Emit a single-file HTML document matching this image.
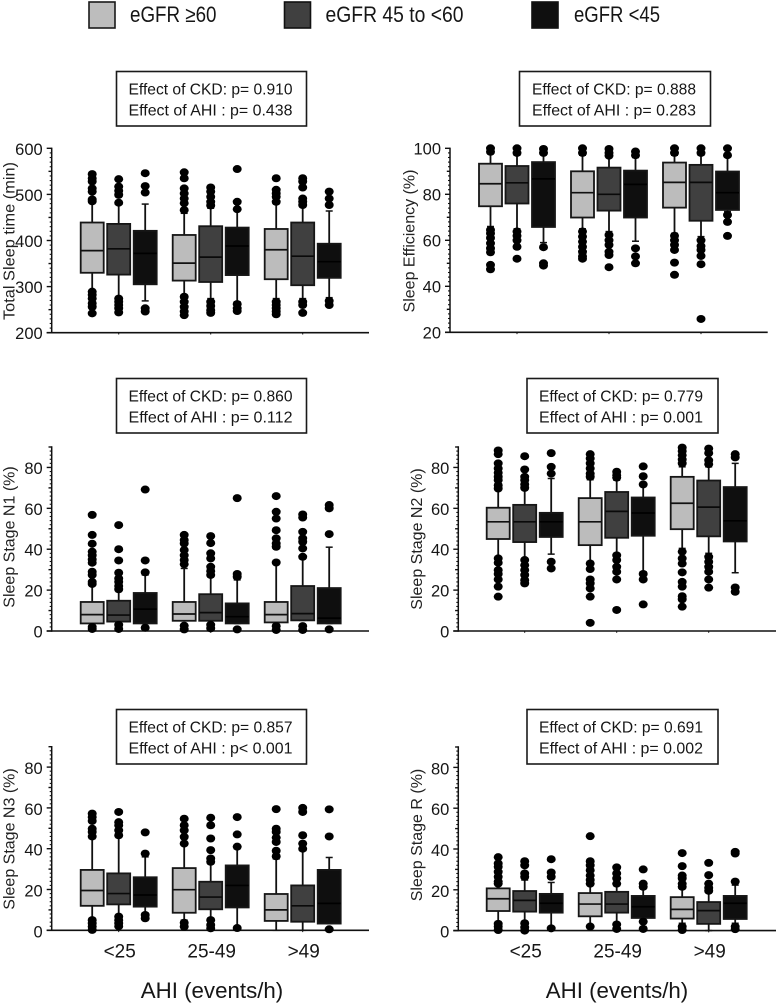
<!DOCTYPE html>
<html lang="en">
<head>
<meta charset="utf-8">
<title>Sleep parameters by AHI and eGFR</title>
<style>
html,body{margin:0;padding:0;background:#fff;}
svg{display:block;}
text{font-family:"Liberation Sans",sans-serif;fill:#161616;}
.legend-text{font-size:22px;}
.note{font-size:16px;}
.ytitle{font-size:16px;text-anchor:middle;fill:#222;}
.xtitle{font-size:22.3px;text-anchor:middle;}
.cat{font-size:19px;text-anchor:middle;}
.tick{font-size:16.5px;text-anchor:end;}
</style>
</head>
<body>
<svg id="figure" xmlns="http://www.w3.org/2000/svg" width="777" height="1005" viewBox="0 0 777 1005">
  <g>
    <g>
      <rect x="89" y="2" width="26" height="26" fill="#bdbdbd" stroke="#1a1a1a" stroke-width="1.6"/>
      <text class="legend-text" x="130" y="22" textLength="86.5" lengthAdjust="spacingAndGlyphs">eGFR ≥60</text>
    </g>
    <g>
      <rect x="284.5" y="2" width="26" height="26" fill="#404040" stroke="#111" stroke-width="1.6"/>
      <text class="legend-text" x="325.5" y="22" textLength="138" lengthAdjust="spacingAndGlyphs">eGFR 45 to &lt;60</text>
    </g>
    <g>
      <rect x="532" y="2" width="26" height="26" fill="#0f0f0f" stroke="#111" stroke-width="1.6"/>
      <text class="legend-text" x="574" y="22" textLength="86" lengthAdjust="spacingAndGlyphs">eGFR &lt;45</text>
    </g>
  </g>

  <g>
    <rect x="116.5" y="71.5" width="190" height="54.5" fill="#fff" stroke="#1a1a1a" stroke-width="1.6"/>
    <text class="note" x="128.5" y="94.5" textLength="164" lengthAdjust="spacingAndGlyphs">Effect of CKD: p= 0.910</text>
    <text class="note" x="128.5" y="115.5" textLength="164" lengthAdjust="spacingAndGlyphs">Effect of AHI : p= 0.438</text>
  </g>
  <g>
    <rect x="519.5" y="71.5" width="191" height="54.5" fill="#fff" stroke="#1a1a1a" stroke-width="1.6"/>
    <text class="note" x="532" y="94.5" textLength="164" lengthAdjust="spacingAndGlyphs">Effect of CKD: p= 0.888</text>
    <text class="note" x="532" y="115.5" textLength="164" lengthAdjust="spacingAndGlyphs">Effect of AHI : p= 0.283</text>
  </g>
  <g>
    <rect x="116.5" y="378.5" width="190" height="54.5" fill="#fff" stroke="#1a1a1a" stroke-width="1.6"/>
    <text class="note" x="128.5" y="401.5" textLength="164" lengthAdjust="spacingAndGlyphs">Effect of CKD: p= 0.860</text>
    <text class="note" x="128.5" y="422.5" textLength="164" lengthAdjust="spacingAndGlyphs">Effect of AHI : p= 0.112</text>
  </g>
  <g>
    <rect x="527" y="378.5" width="191" height="54.5" fill="#fff" stroke="#1a1a1a" stroke-width="1.6"/>
    <text class="note" x="539" y="401.5" textLength="164" lengthAdjust="spacingAndGlyphs">Effect of CKD: p= 0.779</text>
    <text class="note" x="539" y="422.5" textLength="164" lengthAdjust="spacingAndGlyphs">Effect of AHI : p= 0.001</text>
  </g>
  <g>
    <rect x="116.5" y="709.5" width="190" height="54.5" fill="#fff" stroke="#1a1a1a" stroke-width="1.6"/>
    <text class="note" x="128.5" y="732.5" textLength="164" lengthAdjust="spacingAndGlyphs">Effect of CKD: p= 0.857</text>
    <text class="note" x="128.5" y="753.5" textLength="164" lengthAdjust="spacingAndGlyphs">Effect of AHI : p&lt; 0.001</text>
  </g>
  <g>
    <rect x="527" y="709.5" width="191" height="54.5" fill="#fff" stroke="#1a1a1a" stroke-width="1.6"/>
    <text class="note" x="539" y="732.5" textLength="164" lengthAdjust="spacingAndGlyphs">Effect of CKD: p= 0.691</text>
    <text class="note" x="539" y="753.5" textLength="164" lengthAdjust="spacingAndGlyphs">Effect of AHI : p= 0.002</text>
  </g>

  <text class="ytitle" transform="translate(14.5,241) rotate(-90)" textLength="158" lengthAdjust="spacingAndGlyphs">Total Sleep time (min)</text>
  <text class="ytitle" transform="translate(414.5,241) rotate(-90)">Sleep Efficiency (%)</text>
  <text class="ytitle" transform="translate(14.5,537) rotate(-90)">Sleep Stage N1 (%)</text>
  <text class="ytitle" transform="translate(422,539) rotate(-90)">Sleep Stage N2 (%)</text>
  <text class="ytitle" transform="translate(14.5,839) rotate(-90)">Sleep Stage N3 (%)</text>
  <text class="ytitle" transform="translate(422,835) rotate(-90)">Sleep Stage R (%)</text>

  <text class="xtitle" x="212" y="998">AHI (events/h)</text>
  <text class="xtitle" x="617" y="998">AHI (events/h)</text>

  <g id="plots"></g>
</svg>

<script>
// Categories and series
const ahiCategories = ['<25', '25-49', '>49'];
const egfrGroups = ['eGFR ≥60', 'eGFR 45 to <60', 'eGFR <45'];

// Tick labels
const sleepTimeTicks = [200, 300, 400, 500, 600];
const efficiencyTicks = [20, 40, 60, 80, 100];
const stageTicks = [0, 20, 40, 60, 80];

// Total sleep time (min): nine boxes, three per AHI category
const tstQ1 = [330, 326, 305, 313, 310, 325, 316, 303, 319];
const tstMedian = [378, 382, 372, 351, 364, 388, 380, 366, 354];
const tstQ3 = [439, 436, 421, 412, 431, 428, 425, 439, 393];
const tstLow = [285, 276, 269, 282, 274, 267, 274, 274, 276];
const tstHigh = [488, 480, 479, 459, 470, 470, 480, 473, 464];
const tstOutliers = [
  [544,535,528,513,506,489,485,289,282,274,264,256,242],
  [533,517,508,499,482,274,267,260,253,244],
  [546,518,504,253,246],
  [548,535,513,502,491,481,466,278,267,256,246,238],
  [515,506,495,484,476,267,258,249,243],
  [555,484,468,262,253,247],
  [535,510,502,495,484,267,260,253,246,240],
  [535,528,515,491,484,477,267,260,243],
  [506,491,477,269,260]
];

// Sleep efficiency (%)
const effQ1 = [74.8, 76, 65.8, 69.9, 72.9, 69.9, 74.2, 68.5, 73.2];
const effMedian = [84.6, 85, 86.7, 80.7, 80, 84.3, 85.2, 85.2, 80.7];
const effQ3 = [93.3, 92.3, 94, 90, 91.6, 90.3, 93.8, 92.8, 89.9];
const effLow = [66, 65, 59, 65, 63.8, 59.6, 63, 61.6, 72.5];
const effHigh = [97.8, 97, 97.8, 97, 96.4, 96, 97, 97, 96.4];
const effOutliers = [
  [100,98.5,64.5,63,61,58.7,56.5,54.8,49.3,47.4],
  [100,98,63.8,62,60,57.2,52],
  [99.7,98,57,50,49],
  [100,98,63.8,61.6,59.4,57.2,55,53,52],
  [99.7,98,96.8,62.3,60,58,55,53.6,48.3],
  [98.6,97,56.5,53,50],
  [100,98,62,60,58,55.8,50.3,45],
  [100,98,60,57.5,55.8,53.2,49.6,25.8],
  [100,97,71,68,61.9]
];

// Sleep stage N1 (%)
const n1Q1 = [3.7, 4.6, 3.7, 5, 5, 3.7, 4.2, 5.2, 3.7];
const n1Median = [8, 7.8, 10.7, 8.3, 9, 7, 8, 8.5, 6.3];
const n1Q3 = [14.2, 14.8, 18.6, 14.2, 18, 13.5, 14.2, 22, 21];
const n1Low = [3.7, 4.6, 3.7, 5, 5, 3.7, 4.2, 5.2, 3.7];
const n1High = [24, 21, 27.4, 30.6, 26.5, 25, 33, 35.5, 41];
const n1Outliers = [
  [56.8,47,42.7,38.8,37,35,33.4,29,27.4,24,23,2,1],
  [51.8,40,34.5,28.5,25.7,24,22,20.4,3,1],
  [69.2,34.5,28.7,1.6],
  [47,44.5,42.8,39.6,37,34.7,32.7,2.6,0.8],
  [46.4,43,38,35.5,31.4,29.3,27.4,3,1.3],
  [65,27.9,26.5,0.8],
  [66,58.3,55,49.3,45.3,42.8,41.2,33.5,2.4,0.5],
  [57,55.5,48.5,45.3,43.6,40.4,36.3,2.4,0.5],
  [61.6,60,47.4,0.8]
];

// Sleep stage N2 (%)
const n2Q1 = [45, 43.5, 46, 42, 45.6, 46.6, 49.8, 46.3, 43.8];
const n2Median = [53.4, 53.4, 53.4, 53.4, 58.5, 57.7, 62.5, 60.6, 53.9];
const n2Q3 = [60.3, 61.7, 57.8, 65, 68, 65.3, 75.4, 73.6, 70.4];
const n2Low = [36.3, 35.5, 37.6, 34, 38, 29, 40.4, 38, 28.5];
const n2High = [71.3, 69.7, 74.6, 74, 73.8, 71.3, 80.3, 80.3, 82];
const n2Outliers = [
  [88.3,86.5,82,79.5,77.4,75.4,73.8,71.3,69.7,35.5,33.4,29.8,27.9,25.2,21.7,16.8],
  [85.5,79,75.4,73.8,71.8,70,34.7,32.2,29.8,27.4,24.9,23.3],
  [87,80.3,77,33.9,30.6],
  [86.5,84.4,82,79.5,77,75.4,33,30.3,25.2,23.3,20.8,16.8,4],
  [77.9,76.2,75,37,34.7,31.4,29,25.2,10.3],
  [80.5,75.7,71.7,27.9,25.2,13],
  [89.7,88,86,83.9,82,38.8,35.5,33,28.7,24,21.7,17,15.5,11.9],
  [89.2,87,83.5,81.6,36.3,33.9,31.4,29,25.2,21.2],
  [86.5,84.9,21.3,19.2]
];

// Sleep stage N3 (%)
const n3Q1 = [12, 12.7, 11.6, 8.6, 10.3, 11.2, 4.6, 4.2, 3.3];
const n3Median = [19.5, 18, 17.3, 19.9, 16.3, 22, 10, 12, 13.2];
const n3Q3 = [29.6, 27.9, 26, 30.5, 23.8, 31.8, 17.8, 22, 29.6];
const n3Low = [5.9, 6.7, 8.3, 5, 5.9, 2, 0, 0, 3.3];
const n3High = [45, 45.8, 36, 41.7, 32.7, 40, 35, 39, 35.7];
const n3Outliers = [
  [57.2,55.5,53.6,49.8,48.2,46,5,3.4,1.8,0.2],
  [58,53,51.5,49,46.6,6.7,5,3.4,2],
  [48,37.6,7.5,5.9],
  [54.7,51.5,49,45.8,42.5,3.7,1.8],
  [55.2,51.5,45,39.3,35.2,33.6,5,2.6,1],
  [55.5,47,41,1.1],
  [59.4,49.8,48.2,45.4,43.3,39,36.3],
  [60,58,46.6,42.5,40],
  [59.3,46,0.5]
];

// Sleep stage R (%)
const rQ1 = [9.6, 9.3, 8.8, 7, 8.8, 6.2, 5.9, 3.3, 5.7];
const rMedian = [15.6, 14.8, 13.4, 13, 13, 11.7, 10.4, 9.8, 13.4];
const rQ3 = [20.7, 19.4, 18, 18.4, 19, 17, 16.4, 14, 17];
const rLow = [4.4, 4.4, 2, 2.8, 3.6, 2, 3.6, 0, 3.6];
const rHigh = [22.3, 24.8, 23.6, 22.3, 22, 21.5, 21.5, 19, 22.3];
const rOutliers = [
  [36,32.9,31.3,28.8,26.4,24,23,3.3,2,0.3],
  [34,32,28,26.4,3.6,1.6,0],
  [35,28.5,26.4,1.1],
  [46.3,34,32,29.6,27,24.8,23,2],
  [31,28,25.6,23,3,0.8],
  [30,23,21.5,4.4,0.8],
  [38,31.6,27,25.6,23,21.5,2,0.3],
  [33.2,27.2,23,21,19.5],
  [38.6,37.8,24,2,0.7]
];

// Layout (pixels) lives with the panels, never in the data arrays above
const SVG_NS = 'http://www.w3.org/2000/svg';
const plotsLayer = document.getElementById('plots');
const seriesFill = ['#bcbcbc', '#404040', '#0f0f0f'];
const seriesMedian = ['#111', '#0a0a0a', '#000'];
const GROUP_STEP = 92;
const SERIES_STEP = 26.5;
const BOX_W = 23;

const panels = [
  {key:'total-sleep', axisX:51.7, axisEnd:369, x0:118.7, yBase:332.7, yTop:148.3, vMin:200, vMax:600, ticks:sleepTimeTicks, major:100, mid:50, minor:10, labelDy:6.5, q1:tstQ1, med:tstMedian, q3:tstQ3, lo:tstLow, hi:tstHigh, out:tstOutliers, cats:false},
  {key:'sleep-efficiency', axisX:450, axisEnd:767.7, x0:517, yBase:332.3, yTop:148.3, vMin:20, vMax:100, ticks:efficiencyTicks, major:20, mid:10, minor:2, labelDy:6, q1:effQ1, med:effMedian, q3:effQ3, lo:effLow, hi:effHigh, out:effOutliers, cats:false},
  {key:'stage-n1', axisX:51.7, axisEnd:369, x0:118.7, yBase:631, yTop:447, vMin:0, vMax:90, ticks:stageTicks, major:20, mid:10, minor:2, labelDy:6.5, q1:n1Q1, med:n1Median, q3:n1Q3, lo:n1Low, hi:n1High, out:n1Outliers, cats:false},
  {key:'stage-n2', axisX:458.3, axisEnd:776, x0:524.7, yBase:631, yTop:447, vMin:0, vMax:90, ticks:stageTicks, major:20, mid:10, minor:2, labelDy:6.5, q1:n2Q1, med:n2Median, q3:n2Q3, lo:n2Low, hi:n2High, out:n2Outliers, cats:false},
  {key:'stage-n3', axisX:51.7, axisEnd:369, x0:118.7, yBase:930.3, yTop:746.7, vMin:0, vMax:90, ticks:stageTicks, major:20, mid:10, minor:2, labelDy:7, q1:n3Q1, med:n3Median, q3:n3Q3, lo:n3Low, hi:n3High, out:n3Outliers, cats:true},
  {key:'stage-r', axisX:458.3, axisEnd:776, x0:524.7, yBase:930.6, yTop:747, vMin:0, vMax:90, ticks:stageTicks, major:20, mid:10, minor:2, labelDy:7, q1:rQ1, med:rMedian, q3:rQ3, lo:rLow, hi:rHigh, out:rOutliers, cats:true}
];

function svgEl(tag, parent, attrs) {
  const el = document.createElementNS(SVG_NS, tag);
  for (const k in attrs) el.setAttribute(k, attrs[k]);
  parent.appendChild(el);
  return el;
}

function drawPanel(p) {
  const yScale = v => p.yBase - (v - p.vMin) / (p.vMax - p.vMin) * (p.yBase - p.yTop);
  const groupX = g => p.x0 + g * GROUP_STEP;
  const boxX = (g, s) => groupX(g) + (s - 1) * SERIES_STEP;

  const panel = svgEl('g', plotsLayer, {});
  
  

  const axes = svgEl('g', panel, {stroke:'#111', fill:'none'});
  
  

  const yAxis = svgEl('line', axes, {x1:p.axisX, x2:p.axisX, y1:p.yTop - 0.7, y2:p.yBase + 0.7, 'stroke-width':1.5});
  
  

  const xAxis = svgEl('line', axes, {x1:p.axisX - 5, x2:p.axisEnd, y1:p.yBase, y2:p.yBase, 'stroke-width':1.6});
  
  

  const minorCount = Math.round((p.vMax - p.vMin) / p.minor);
  for (let i = 0; i <= minorCount; i++) {
    const v = p.vMin + i * p.minor;
    let len = 2;
    if (v % p.mid === 0) len = 3.2;
    if (v % p.major === 0 && v <= p.vMax) len = 5;
    const y = yScale(v);
    const tick = svgEl('line', axes, {x1:p.axisX - len, x2:p.axisX, y1:y, y2:y, 'stroke-width':len > 2 ? 1.4 : 1.1});
    
    
  }

  p.ticks.forEach(v => {
    const label = svgEl('text', panel, {class:'tick', x:p.axisX - 9, y:yScale(v) + p.labelDy});
    
    
    label.textContent = v;
  });

  ahiCategories.forEach((cat, g) => {
    const t = svgEl('line', axes, {x1:groupX(g), x2:groupX(g), y1:p.yBase, y2:p.yBase + 1.8, 'stroke-width':1});
    
    
    if (p.cats) {
      const label = svgEl('text', panel, {class:'cat', x:groupX(g) + 1, y:p.yBase + 27});
      
      
      label.textContent = cat;
    }
  });

  p.q1.forEach((_, i) => {
    const g = Math.floor(i / egfrGroups.length);
    const s = i % egfrGroups.length;
    const cx = boxX(g, s);
    const box = svgEl('g', panel, {});
    
    

    const whisker = svgEl('line', box, {x1:cx, x2:cx, y1:yScale(p.lo[i]), y2:yScale(p.hi[i]), stroke:'#111', 'stroke-width':1.8});
    
    

    [p.lo[i], p.hi[i]].forEach(v => {
      const cap = svgEl('line', box, {x1:cx - 3.5, x2:cx + 3.5, y1:yScale(v), y2:yScale(v), stroke:'#111', 'stroke-width':1.5});
      
      
    });

    const rect = svgEl('rect', box, {x:cx - BOX_W / 2, y:yScale(p.q3[i]), width:BOX_W, height:yScale(p.q1[i]) - yScale(p.q3[i]), fill:seriesFill[s], stroke:'#161616', 'stroke-width':1.8});
    
    

    const med = svgEl('line', box, {x1:cx - BOX_W / 2, x2:cx + BOX_W / 2, y1:yScale(p.med[i]), y2:yScale(p.med[i]), stroke:seriesMedian[s], 'stroke-width':1.7});
    
    

    p.out[i].forEach(v => {
      const dot = svgEl('ellipse', box, {cx:cx, cy:yScale(v), rx:4.5, ry:4, fill:'#000'});
      
      
    });
  });
}

panels.forEach(drawPanel);
</script>
</body>
</html>
